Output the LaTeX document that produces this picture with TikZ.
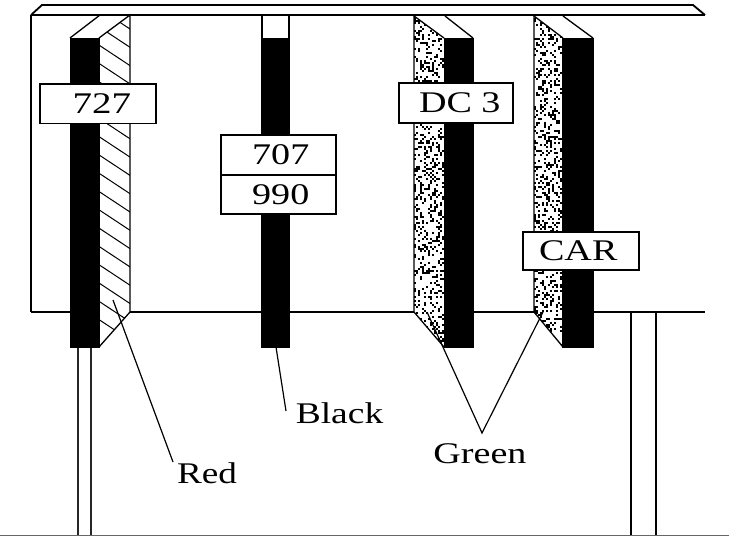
\documentclass[tikz,border=0pt]{standalone}
\usepackage{fontspec}
\usepackage{graphicx}
\setmainfont{Liberation Serif}
\newcommand{\lbl}[2][1.27]{\scalebox{#1}[1]{\fontsize{30}{30}\selectfont #2}}
\newcommand{\speckle}[5]{%
  \begin{scope}
    \clip (#1,#2) -- (#1+#3,#2+22) -- (#1+#3,347) -- (#1,312) -- cycle;
    \fill[white] (#1,#2) rectangle (#1+#3,347);
    \pgfmathsetseed{#4}
    \foreach \k in {1,...,#5}{
      \pgfmathsetmacro{\dotx}{#1+2*floor(rnd*#3/2)}
      \pgfmathsetmacro{\doty}{#2+2*floor(rnd*(347-#2)/2)}
      \fill[black] (\dotx,\doty) rectangle ++(1.5,1.5);
    }
  \end{scope}}
\begin{document}
\begin{tikzpicture}[x=1pt,y=-1pt,
  plate/.style={draw=black,line width=1.8pt},
  thinline/.style={draw=black,line width=1.3pt},
  blackbar/.style={fill=black,draw=black,line width=0.5pt},
  leader/.style={draw=black,line width=1.2pt},
  labelbox/.style={draw=black,fill=white,line width=1.5pt,inner sep=0pt,anchor=north west,align=center},
  caption/.style={inner sep=0pt,anchor=base}]
\useasboundingbox (0,0) rectangle (729,536);
\fill[white] (0,0) rectangle (729,536);
% ground
\draw[draw=black!60,line width=1.2pt] (0,535.3) -- (729,535.3);
% plate
\draw[plate] (31,15) -- (42,5) -- (693,5) -- (705,15);
\draw[plate] (31,15) -- (705,15);
\draw[thinline] (31,15) -- (31,312);
\draw[plate] (31,312) -- (705,312);
% legs
\draw[thinline,draw=black!85] (78,347) -- (78,535);
\draw[thinline,draw=black!85] (91,347) -- (91,535);
\draw[plate,line width=1.5pt] (631,312) -- (631,535);
\draw[plate,line width=1.5pt] (656,312) -- (656,535);
% strip 1 (hatched)
\fill[white] (99,38) -- (130,15) -- (130,312) -- (99,347) -- cycle;
\begin{scope}
  \clip (99,38) -- (130,15) -- (130,312) -- (99,347) -- cycle;
  \foreach \k in {-2,...,16}{
    \draw[thinline,line width=1pt] (99,283-18.3*\k) -- (130,303.5-18.3*\k);
  }
\end{scope}
\draw[thinline] (70,38) -- (100,15);
\draw[thinline] (99,38) -- (130,15) -- (130,312) -- (99,347);
\fill[blackbar] (70,38) rectangle (99,347);
% strip 2
\draw[thinline] (262,15) -- (262,38);
\draw[thinline] (289,15) -- (289,38);
\fill[blackbar] (261,38) rectangle (289,347);
% strip 3 (dotted)
\speckle{414}{16}{30}{11}{780}
\draw[thinline] (414,16) -- (444,38);
\draw[thinline] (445,16) -- (473,38);
\draw[thinline] (414,16) -- (414,312) -- (444,347);
\fill[blackbar] (444,38) rectangle (473,347);
% strip 4 (dotted)
\speckle{534}{16}{29}{23}{780}
\draw[thinline] (534,16) -- (563,38);
\draw[thinline] (563,16) -- (593,38);
\draw[thinline] (534,16) -- (534,312) -- (563,347);
\fill[blackbar] (562,38) rectangle (593,347);
% label boxes
\node[labelbox,minimum width=116pt,minimum height=39.5pt] (b727) at (39,83) {\hspace*{8pt}\lbl[1.3]{727}};
\node[labelbox,minimum width=114pt,minimum height=40pt] (bdc) at (398,82) {\hspace*{8pt}\lbl{DC 3}};
\node[labelbox,minimum width=115pt,minimum height=40pt] (b707) at (220,134) {\hspace*{5pt}\lbl{707}};
\node[labelbox,minimum width=115pt,minimum height=39pt] (b990) at (220,174) {\hspace*{5pt}\lbl{990}};
\node[labelbox,minimum width=116pt,minimum height=38pt] (bcar) at (522,231) {\lbl{CAR}\hspace*{5pt}};
% captions
\node[caption] (red) at (207,483) {\lbl[1.24]{Red}};
\node[caption] (blk) at (339.5,423) {\lbl[1.25]{Black}};
\node[caption] (grn) at (480,463) {\lbl{Green}};
% leaders
\coordinate (redA) at (113,300);
\coordinate (redB) at (173,462);
\coordinate (blkA) at (276,347);
\coordinate (blkB) at (286,411);
\coordinate (grnApex) at (482,433);
\coordinate (grnL) at (427,312);
\coordinate (grnR) at (543,312);
\draw[leader] (redA) -- (redB);
\draw[leader] (blkA) -- (blkB);
\draw[leader] (grnL) -- (grnApex) -- (grnR);
\end{tikzpicture}
\end{document}
